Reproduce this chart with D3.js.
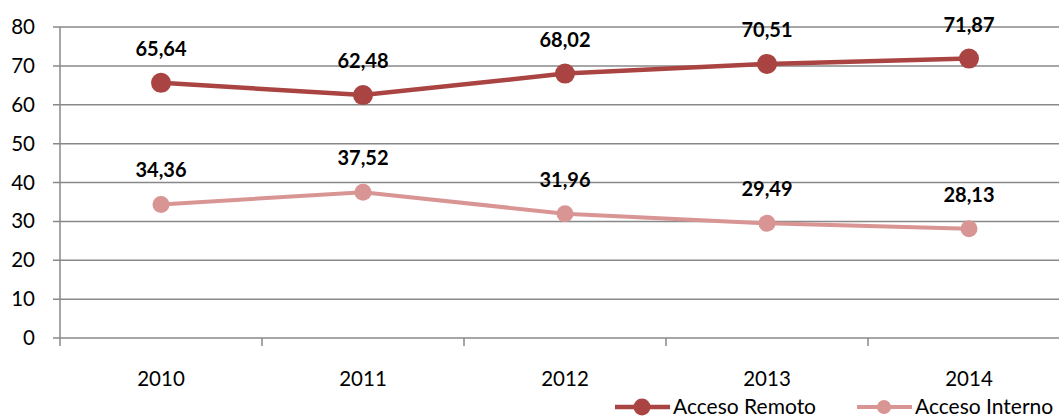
<!DOCTYPE html>
<html>
<head>
<meta charset="utf-8">
<script src="https://cdn.jsdelivr.net/npm/d3@7/dist/d3.min.js"></script>
<style>
  body { margin: 0; background: #fff; }
  svg { display: block; font-family: Lato, "Open Sans", sans-serif; }
</style>
</head>
<body>
<svg id="chart" width="1059" height="417"></svg>
<script>
const years = ['2010', '2011', '2012', '2013', '2014'];
const remoto = [65.64, 62.48, 68.02, 70.51, 71.87];
const interno = [34.36, 37.52, 31.96, 29.49, 28.13];
const yTicks = [0, 10, 20, 30, 40, 50, 60, 70, 80];

const series = [
  { name: 'Acceso Remoto', values: remoto, color: '#a94442', r: 10, w: 4.5 },
  { name: 'Acceso Interno', values: interno, color: '#d99594', r: 8.5, w: 4 }
];

const svg = d3.select('#chart');
const plot = { left: 60, right: 1070, top: 27, bottom: 338 };

const x = d3.scaleBand().domain(years).range([plot.left, plot.right]);
const y = d3.scaleLinear().domain([0, 80]).range([plot.bottom, plot.top]);
const fmt = v => v.toFixed(2).replace('.', ',');

// gridlines
svg.append('g')
  .selectAll('line')
  .data(yTicks)
  .enter().append('line')
  .attr('x1', plot.left - 7)
  .attr('x2', 1059)
  .attr('y1', d => y(d))
  .attr('y2', d => y(d))
  .style('stroke', '#888')
  .style('stroke-width', 1.5);

// y axis line
svg.append('line')
  .attr('x1', plot.left).attr('x2', plot.left)
  .attr('y1', plot.top).attr('y2', plot.bottom + 8)
  .style('stroke', '#888').style('stroke-width', 1.5);

// x ticks at band edges
svg.append('g')
  .selectAll('line')
  .data(years.slice(1))
  .enter().append('line')
  .attr('x1', d => x(d)).attr('x2', d => x(d))
  .attr('y1', plot.bottom).attr('y2', plot.bottom + 8)
  .style('stroke', '#888').style('stroke-width', 1.5);

// y labels
svg.append('g')
  .selectAll('text')
  .data(yTicks)
  .enter().append('text')
  .attr('x', 35)
  .attr('y', d => y(d) + 7)
  .attr('text-anchor', 'end')
  .style('font-size', '20.5px')
  .style('fill', '#000')
  .text(d => d);

// x labels
svg.append('g')
  .selectAll('text')
  .data(years)
  .enter().append('text')
  .attr('x', d => x(d) + x.bandwidth() / 2)
  .attr('y', 386)
  .attr('text-anchor', 'middle')
  .style('font-size', '20.5px')
  .text(d => d);

const cx = d => x(d) + x.bandwidth() / 2;

series.forEach(s => {
  const pts = years.map((yr, i) => ({ yr, v: s.values[i] }));
  svg.append('path')
    .datum(pts)
    .attr('d', d3.line().x(d => cx(d.yr)).y(d => y(d.v)))
    .style('fill', 'none')
    .style('stroke', s.color)
    .style('stroke-width', s.w);

  svg.append('g')
    .selectAll('circle')
    .data(pts)
    .enter().append('circle')
    .attr('cx', d => cx(d.yr))
    .attr('cy', d => y(d.v))
    .attr('r', s.r)
    .style('fill', s.color);

  svg.append('g')
    .selectAll('text')
    .data(pts)
    .enter().append('text')
    .attr('x', d => cx(d.yr))
    .attr('y', d => y(d.v) - 27)
    .attr('text-anchor', 'middle')
    .style('font-size', '20px')
    .style('font-weight', 'bold')
    .text(d => fmt(d.v));
});

// legend
const legendX = [615, 857];
series.forEach((s, i) => {
  const g = svg.append('g').attr('transform', `translate(${legendX[i]},407)`);
  g.append('line').attr('x1', 0).attr('x2', 55).attr('y1', 0).attr('y2', 0)
    .style('stroke', s.color).style('stroke-width', s.w);
  g.append('circle').attr('cx', 27).attr('cy', 0).attr('r', s.r - 1.5).style('fill', s.color);
  g.append('text').attr('x', 58).attr('y', 7)
    .style('font-size', '21px').text(s.name);
});
</script>
</body>
</html>
